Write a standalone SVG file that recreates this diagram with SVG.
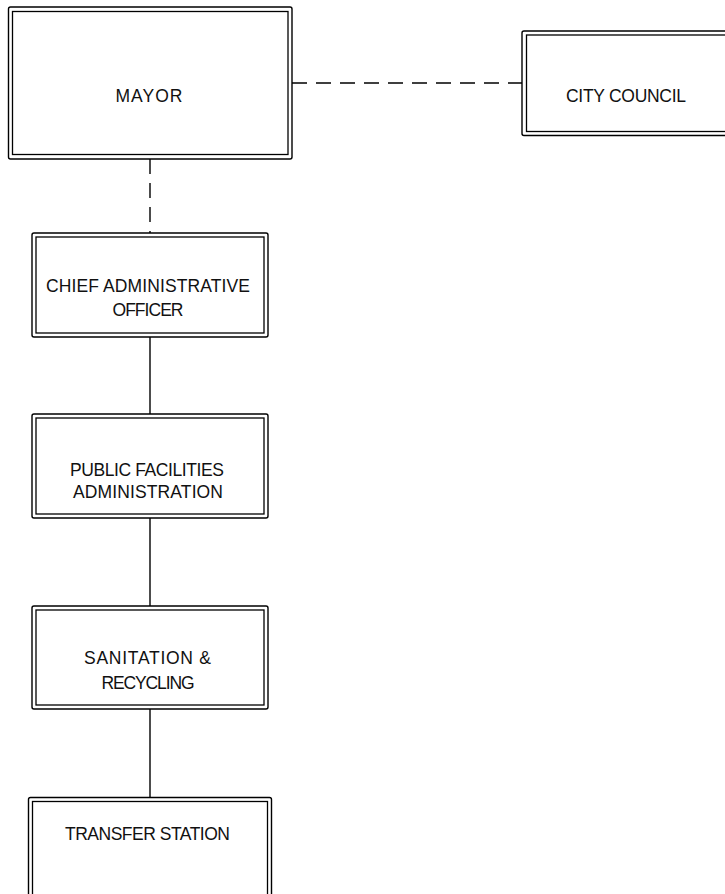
<svg xmlns="http://www.w3.org/2000/svg" width="725" height="894" viewBox="0 0 725 894">
  <style>
    .outer { fill: #fff; stroke: #000; stroke-width: 1.4; }
    .inner { fill: none; stroke: #000; stroke-width: 1.3; }
    .lbl { font-family: "Liberation Sans", Arial, sans-serif; font-size: 17.5px; fill: #111; text-anchor: middle; }
    .solid { stroke: #000; stroke-width: 1.4; fill: none; }
    .dashed { stroke: #000; stroke-width: 1.4; fill: none; stroke-dasharray: 15 9; }
  </style>

  <!-- reporting lines -->
  <g id="connectors">
    <line class="dashed" x1="292" y1="83" x2="522" y2="83"/>
    <line class="dashed" x1="150" y1="159" x2="150" y2="233"/>
    <line class="solid" x1="150" y1="337" x2="150" y2="414"/>
    <line class="solid" x1="150" y1="518" x2="150" y2="606"/>
    <line class="solid" x1="150" y1="709" x2="150" y2="797"/>
  </g>

  <g id="mayor">
    <rect class="outer" x="8.5" y="7" width="283.5" height="152" rx="2"/>
    <rect class="inner" x="12.5" y="11.5" width="275.5" height="143"/>
    <text class="lbl" x="149" y="102" textLength="67" lengthAdjust="spacing">MAYOR</text>
  </g>

  <g id="city-council">
    <rect class="outer" x="522" y="31" width="215" height="104.5" rx="2"/>
    <rect class="inner" x="526.5" y="35" width="206" height="96.5"/>
    <text class="lbl" x="626" y="102" textLength="120" lengthAdjust="spacing">CITY COUNCIL</text>
  </g>

  <g id="chief-administrative-officer">
    <rect class="outer" x="32" y="233" width="236" height="104" rx="2"/>
    <rect class="inner" x="36" y="237" width="228" height="96"/>
    <text class="lbl" x="148" y="292" textLength="204" lengthAdjust="spacing">CHIEF ADMINISTRATIVE</text>
    <text class="lbl" x="148" y="316" textLength="71" lengthAdjust="spacing">OFFICER</text>
  </g>

  <g id="public-facilities-administration">
    <rect class="outer" x="32" y="414" width="236" height="104" rx="2"/>
    <rect class="inner" x="36" y="418" width="228" height="96"/>
    <text class="lbl" x="147" y="476" textLength="154" lengthAdjust="spacing">PUBLIC FACILITIES</text>
    <text class="lbl" x="148" y="498" textLength="150" lengthAdjust="spacing">ADMINISTRATION</text>
  </g>

  <g id="sanitation-recycling">
    <rect class="outer" x="32" y="606" width="236" height="103" rx="2"/>
    <rect class="inner" x="36" y="610" width="228" height="95"/>
    <text class="lbl" x="147.5" y="664" textLength="127" lengthAdjust="spacing">SANITATION &amp;</text>
    <text class="lbl" x="148" y="689" textLength="93" lengthAdjust="spacing">RECYCLING</text>
  </g>

  <g id="transfer-station">
    <rect class="outer" x="28.5" y="797.5" width="243" height="110" rx="2"/>
    <rect class="inner" x="32.5" y="801.5" width="235" height="102"/>
    <text class="lbl" x="147.5" y="840" textLength="165" lengthAdjust="spacing">TRANSFER STATION</text>
  </g>
</svg>
